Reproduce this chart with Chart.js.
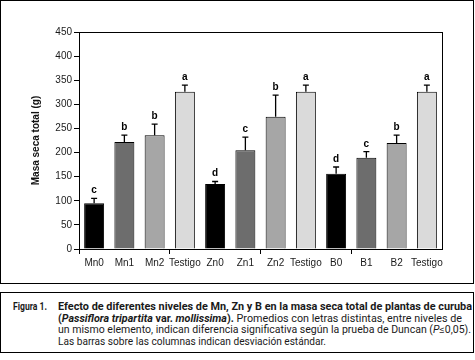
<!DOCTYPE html>
<html>
<head>
<meta charset="utf-8">
<script src="https://cdn.jsdelivr.net/npm/chart.js@4"></script>
<style>
    body { margin: 0; background: #fff; font-family: "Liberation Sans", Arial, sans-serif; }
    #frame { position: absolute; left: 0; top: 0; width: 472px; height: 282px; border: 1px solid #000; }
    #grafico { position: absolute; left: 0; top: 0; }
    #caption { position: absolute; left: 0; top: 292px; width: 472px; height: 59px; border: 1px solid #000; overflow: hidden; font-family: Roboto, "Liberation Sans", sans-serif; font-size: 10.5px; line-height: 11.5px; color: #1a1a1a; }
    #caption .fig { position: absolute; left: 12px; top: 8px; font-weight: bold; white-space: nowrap; transform-origin: 0 0; transform: scaleX(0.82); }
    #caption .body { position: absolute; left: 57px; top: 8px; }
    #caption .linha { display: block; white-space: nowrap; transform-origin: 0 0; width: max-content; }
</style>
</head>
<body>
<div id="frame"></div>
<canvas id="grafico" width="475" height="284"></canvas>
<div id="caption">
    <span class="fig">Figura 1.</span>
    <div class="body">
        <span class="linha"><b>Efecto de diferentes niveles de Mn, Zn y B en la masa seca total de plantas de curuba</b></span>
        <span class="linha"><b>(<i>Passiflora tripartita</i> var. <i>mollissima</i>).</b> Promedios con letras distintas, entre niveles de</span>
        <span class="linha">un mismo elemento, indican diferencia significativa según la prueba de Duncan (<i>P</i>≤0,05).</span>
        <span class="linha">Las barras sobre las columnas indican desviación estándar.</span>
    </div>
</div>
<script>
const categories = ['Mn0', 'Mn1', 'Mn2', 'Testigo', 'Zn0', 'Zn1', 'Zn2', 'Testigo', 'B0', 'B1', 'B2', 'Testigo'];
const masaSeca = [95, 222, 236, 326, 135, 205, 274, 326, 156, 189, 220, 326];
const desviacion = [10, 14, 23, 14, 5, 27, 45, 14, 14, 13, 16, 14];
const letras = ['c', 'b', 'b', 'a', 'd', 'c', 'b', 'a', 'd', 'c', 'b', 'a'];
const coresBarras = ['#000000', '#6d6d6d', '#a6a6a6', '#dadada'];

const FONT = '"Liberation Sans", Arial, sans-serif';

// condensed caption: squeeze each line to the width it has in the figure
const largurasLinhas = [414, 404, 413, 268];
document.querySelectorAll('#caption .linha').forEach((el, i) => {
    el.style.transform = 'scaleX(' + (largurasLinhas[i] / el.getBoundingClientRect().width) + ')';
});

// error bars, letters and the closed frame around the plot
const extrasPlugin = {
    id: 'extras',
    afterDatasetsDraw(chart) {
        const { ctx, chartArea } = chart;
        const meta = chart.getDatasetMeta(0);
        const y = chart.scales.y;
        ctx.save();
        ctx.strokeStyle = '#000';
        ctx.fillStyle = '#000';
        ctx.lineWidth = 1.3;
        ctx.font = 'bold 10px ' + FONT;
        ctx.textAlign = 'center';
        ctx.textBaseline = 'alphabetic';
        meta.data.forEach((bar, i) => {
            const top = y.getPixelForValue(masaSeca[i] + desviacion[i]);
            ctx.beginPath();
            ctx.moveTo(bar.x, bar.y);
            ctx.lineTo(bar.x, top);
            ctx.moveTo(bar.x - 3, top);
            ctx.lineTo(bar.x + 3, top);
            ctx.stroke();
            ctx.fillText(letras[i], bar.x, top - 5);
        });
        ctx.lineWidth = 1;
        ctx.strokeRect(chartArea.left + 0.5, chartArea.top + 0.5, chartArea.right - chartArea.left, chartArea.bottom - chartArea.top);
        ctx.restore();
    }
};

const ctx = document.getElementById('grafico').getContext('2d');
new Chart(ctx, {
    type: 'bar',
    data: {
        labels: categories,
        datasets: [{
            data: masaSeca,
            backgroundColor: categories.map((c, i) => coresBarras[i % 4]),
            borderColor: '#000',
            borderWidth: 1,
            barPercentage: 0.66,
            categoryPercentage: 1
        }]
    },
    options: {
        responsive: false,
        animation: false,
        layout: { padding: { left: 26, top: 32, right: 33, bottom: 0 } },
        plugins: { legend: { display: false }, tooltip: { enabled: false } },
        scales: {
            x: {
                afterFit: (scale) => { scale.height = 35; },
                border: { color: '#000', width: 1 },
                grid: {
                    drawOnChartArea: false,
                    tickLength: 5,
                    color: (c) => (c.index % 3 === 0 ? '#000' : 'rgba(0,0,0,0)'),
                    tickColor: (c) => (c.index % 3 === 0 ? '#000' : 'rgba(0,0,0,0)')
                },
                ticks: { color: '#1a1a1a', padding: 3, maxRotation: 0, autoSkip: false, font: { family: FONT, size: 10 } }
            },
            y: {
                min: 0,
                max: 450,
                afterFit: (scale) => { scale.width = 53; },
                border: { color: '#000', width: 1 },
                grid: { drawOnChartArea: false, tickLength: 5, color: '#000' },
                ticks: { stepSize: 50, color: '#1a1a1a', padding: 2, font: { family: FONT, size: 10 } },
                title: {
                    display: true,
                    text: 'Masa seca total (g)',
                    color: '#111',
                    padding: { top: 4, bottom: 4 },
                    font: { family: FONT, size: 10, weight: 'bold' }
                }
            }
        }
    },
    plugins: [extrasPlugin]
});
</script>
</body>
</html>
